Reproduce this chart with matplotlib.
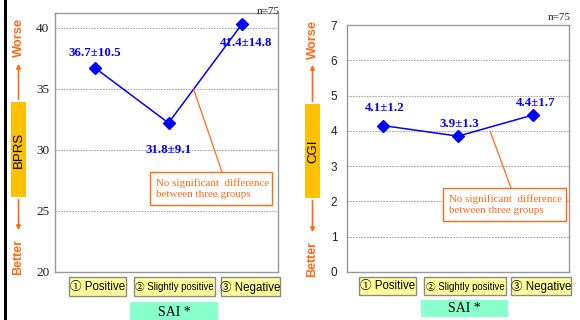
import matplotlib
matplotlib.use("Agg")
import matplotlib.pyplot as plt
from matplotlib.patches import Rectangle, FancyArrowPatch

# ---- data ----
groups = ["\u2460 Positive", "\u2461 Slightly positive", "\u2462 Negative"]
bprs_plotted = [36.7, 32.2, 40.3]
bprs_labels = ["36.7\u00b110.5", "31.8\u00b19.1", "41.4\u00b114.8"]
cgi_plotted = [4.15, 3.85, 4.45]
cgi_labels = ["4.1\u00b11.2", "3.9\u00b11.3", "4.4\u00b11.7"]
bprs_ticks = [20, 25, 30, 35, 40]
cgi_ticks = [0, 1, 2, 3, 4, 5, 6, 7]
note = "No significant  difference\nbetween three groups"

W, H = 580, 320
fig = plt.figure(figsize=(W / 100, H / 100), dpi=100)
fig.patch.set_facecolor("white")

SERIF = ["Liberation Serif", "DejaVu Serif"]
SANS = ["Liberation Sans", "DejaVu Sans"]
SANS_SYM = ["Liberation Sans", "Noto Sans CJK JP", "DejaVu Sans"]
ORANGE = "#FF6A13"
BLUE = "#0000FF"


def ax_rect(x0, y0, x1, y1):
    return [x0 / W, 1 - y1 / H, (x1 - x0) / W, (y1 - y0) / H]


# overlay for decorations (pixel coordinates)
ov = fig.add_axes([0, 0, 1, 1], zorder=5)
ov.set_xlim(0, W)
ov.set_ylim(H, 0)
ov.axis("off")
ov.patch.set_alpha(0)


def make_panel(rect, vals, labels, yticks, ylim, xlim, tickfont, tfs, pad, label_offsets):
    ax = fig.add_axes(rect)
    x = list(range(len(vals)))
    ax.plot(x, vals, color=BLUE, lw=1.1, marker="D", ms=6, mfc=BLUE, mec=BLUE, zorder=3)
    for xi, v, lab, off in zip(x, vals, labels, label_offsets):
        ax.annotate(lab, (xi, v), xytext=off, textcoords="offset points", ha="center", va="center",
                    color=BLUE, fontsize=9.3, fontweight="bold", family=SERIF)
    ax.set_ylim(*ylim)
    ax.set_xlim(*xlim)
    ax.set_yticks(yticks)
    ax.set_yticklabels([str(t) for t in yticks], family=tickfont, fontsize=tfs, color="#222222")
    ax.set_xticks([])
    ax.tick_params(axis="y", length=0, pad=pad)
    for t in yticks[1:]:
        if t < ylim[1]:
            ax.axhline(t, color="#AAAAAA", lw=0.8, ls=(0, (1.5, 1)), zorder=1)
    for s in ax.spines.values():
        s.set_color("#999999")
        s.set_linewidth(1.0)
    return ax


axL = make_panel(ax_rect(55, 13, 278, 272), bprs_plotted, bprs_labels, bprs_ticks, (20, 41.2),
                 (-0.545, 2.49), SERIF, 9.5, 4, [(0, 11), (0, -19.5), (3, -14)])
axR = make_panel(ax_rect(347, 25, 569, 272), cgi_plotted, cgi_labels, cgi_ticks, (0, 7.0),
                 (-0.48, 2.48), SANS, 8.5, 7, [(1, 13), (1, 9), (2, 8.5)])

# n=75
ov.text(280, 11, "n=75", ha="right", va="center", fontsize=8, family=SERIF, color="#222222")
ov.text(571, 18, "n=75", ha="right", va="center", fontsize=8, family=SERIF, color="#222222")

# left black bar
ov.add_patch(Rectangle((3.5, 0), 3.5, H, color="black", lw=0))


def side_label(x0, x1, y0, y1, text, worse_y, better_y, up_end, down_end):
    ov.add_patch(Rectangle((x0, y0), x1 - x0, y1 - y0, facecolor="#FFC000", edgecolor="none"))
    cx = (x0 + x1) / 2
    ov.text(cx + 0.5, (y0 + y1) / 2, text, rotation=90, ha="center", va="center", fontsize=9.5,
            family=SANS, color="black")
    ov.add_patch(FancyArrowPatch((cx, y0), (cx, up_end), arrowstyle="-|>", mutation_scale=6,
                                 color=ORANGE, lw=1.2))
    ov.add_patch(FancyArrowPatch((cx, y1), (cx, down_end), arrowstyle="-|>", mutation_scale=6,
                                 color=ORANGE, lw=1.2))
    ov.text(cx, worse_y, "Worse", rotation=90, ha="center", va="center", fontsize=9.3,
            fontweight="bold", family=SANS, color=ORANGE)
    ov.text(cx, better_y, "Better", rotation=90, ha="center", va="center", fontsize=9,
            fontweight="bold", family=SANS, color=ORANGE)


side_label(11, 26, 102, 197, "BPRS", 37, 257, 61, 233)
side_label(305, 320, 104, 198, "CGI", 39, 259, 62, 235)


def cat_boxes(boxes):
    for (x0, x1, y0, y1), lab in zip(boxes, groups):
        ov.add_patch(Rectangle((x0, y0), x1 - x0, y1 - y0, facecolor="#FFFF99", edgecolor="#8A8A8A", lw=1))
        fs = 6.9 if "Slightly" in lab else 8.3
        ov.text((x0 + x1) / 2, (y0 + y1) / 2 + 0.5, lab, ha="center", va="center", fontsize=fs,
                family=SANS_SYM, color="black")


cat_boxes([(69, 126, 277, 296), (134, 215, 277, 296), (221, 280, 277, 296)])
cat_boxes([(359, 416, 277, 295), (424, 506, 277, 295), (511, 571, 277, 295)])

for x0, x1, y0, y1 in [(130, 218, 302, 321), (421, 508, 300, 317)]:
    ov.add_patch(Rectangle((x0, y0), x1 - x0, y1 - y0, facecolor="#88FFCC", edgecolor="none"))
    ov.text((x0 + x1) / 2, (y0 + y1) / 2 + 0.5, "SAI *", ha="center", va="center", fontsize=10,
            family=SERIF, color="black")

# callouts
for ax, xy, (x0, x1, y0, y1), anchor in [
    (axL, (1.34, 35.0), (150, 272, 172, 205), (222, 172)),
    (axR, (1.43, 3.98), (443, 566, 188, 221), (511, 188)),
]:
    ov.add_patch(Rectangle((x0, y0), x1 - x0, y1 - y0, facecolor="white", edgecolor=ORANGE, lw=1, zorder=2))
    ov.text(x0 + 6, (y0 + y1) / 2, note, ha="left", va="center", fontsize=7.9, family=SERIF,
            color=ORANGE, linespacing=1.2, zorder=3)
    ax.annotate("", xy=xy, xycoords="data", xytext=anchor, textcoords=ov.transData,
                arrowprops=dict(arrowstyle="-", color=ORANGE, lw=0.9, shrinkA=0, shrinkB=0))

fig.savefig("out.png", dpi=100)
